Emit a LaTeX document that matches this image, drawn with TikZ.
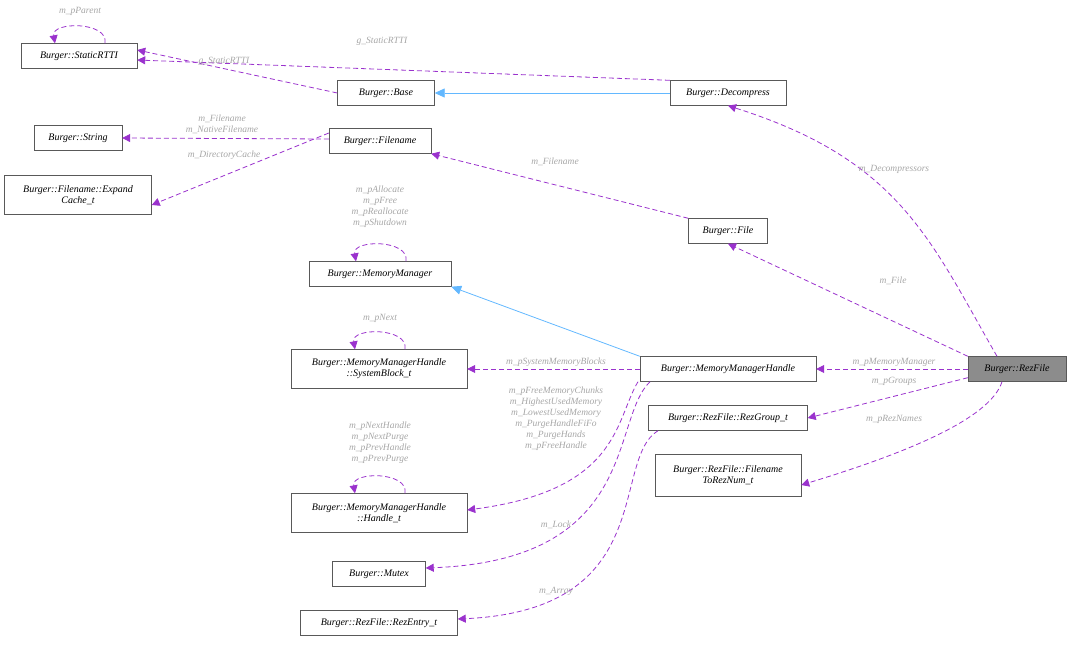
\documentclass[tikz,border=0pt]{standalone}
\usepackage{fontspec}
\setmainfont{Liberation Serif}
\usetikzlibrary{arrows.meta}
\definecolor{edgepurple}{HTML}{9A32CD}
\definecolor{inhblue}{HTML}{63B8FF}
\tikzset{
    cls/.style={draw=black!65, fill=white, inner sep=2pt, minimum height=25pt, align=center, font=\fontsize{10}{11}\selectfont\itshape},
    dep/.style={draw=edgepurple, dashed, thick, dash pattern=on 5pt off 3pt, -{Triangle[length=8pt,width=8pt]}},
    inh/.style={draw=inhblue, thick, -{Triangle[length=10pt,width=9pt]}},
    lbl/.style={text=black!35, font=\fontsize{9.5}{11}\selectfont\itshape, align=center, inner sep=1pt}
}
\begin{document}
\begin{tikzpicture}[x=1pt, y=-1pt]
    \useasboundingbox (0,0) rectangle (1071,645);

    % Classes
    \node[cls, minimum width=116pt] (rtti) at (79,56) {Burger::StaticRTTI};
    \node[cls, minimum width=97pt] (base) at (386,93) {Burger::Base};
    \node[cls, minimum width=116pt] (decomp) at (728,93) {Burger::Decompress};
    \node[cls, minimum width=88pt] (string) at (78,138) {Burger::String};
    \node[cls, minimum width=102pt] (fname) at (380,141) {Burger::Filename};
    \node[cls, minimum width=147pt, minimum height=39pt] (expand) at (78,195) {Burger::Filename::Expand\\Cache\_t};
    \node[cls, minimum width=79pt] (file) at (728,231) {Burger::File};
    \node[cls, minimum width=142pt] (mm) at (380,274) {Burger::MemoryManager};
    \node[cls, minimum width=176pt, minimum height=39pt] (sysblock) at (379,369) {Burger::MemoryManagerHandle\\::SystemBlock\_t};
    \node[cls, minimum width=176pt] (mmh) at (728,369) {Burger::MemoryManagerHandle};
    \node[cls, minimum width=98pt, fill=black!45] (rez) at (1017,369) {Burger::RezFile};
    \node[cls, minimum width=159pt] (group) at (728,418) {Burger::RezFile::RezGroup\_t};
    \node[cls, minimum width=146pt, minimum height=42pt] (tonum) at (728,475) {Burger::RezFile::Filename\\ToRezNum\_t};
    \node[cls, minimum width=176pt, minimum height=39pt] (handle) at (379,513) {Burger::MemoryManagerHandle\\::Handle\_t};
    \node[cls, minimum width=93pt] (mutex) at (379,574) {Burger::Mutex};
    \node[cls, minimum width=157pt] (entry) at (379,623) {Burger::RezFile::RezEntry\_t};

    % Inheritance
    \draw[inh] (decomp) -- (base);
    \draw[inh] (mmh.north west) -- (mm.south east);

    % Self references
    \draw[dep] ([xshift=26pt]rtti.north) .. controls +(4,-22) and +(-4,-22) .. ([xshift=-24pt]rtti.north);
    \node[lbl] (l1) at (80,11) {m\_pParent};
    \draw[dep] ([xshift=26pt]mm.north) .. controls +(4,-22) and +(-4,-22) .. ([xshift=-24pt]mm.north);
    \node[lbl] (l2) at (380,207) {m\_pAllocate\\m\_pFree\\m\_pReallocate\\m\_pShutdown};
    \draw[dep] ([xshift=26pt]sysblock.north) .. controls +(4,-22) and +(-4,-22) .. ([xshift=-24pt]sysblock.north);
    \node[lbl] (l3) at (380,318) {m\_pNext};
    \draw[dep] ([xshift=26pt]handle.north) .. controls +(4,-22) and +(-4,-22) .. ([xshift=-24pt]handle.north);
    \node[lbl] (l4) at (380,443) {m\_pNextHandle\\m\_pNextPurge\\m\_pPrevHandle\\m\_pPrevPurge};

    % Members
    \draw[dep] (decomp.north west) -- ([yshift=-4pt]rtti.east);
    \node[lbl] (l5) at (382,41) {g\_StaticRTTI};
    \draw[dep] (base.west) -- ([yshift=6pt]rtti.east);
    \node[lbl] (l6) at (224,61) {g\_StaticRTTI};
    \draw[dep] ([yshift=2pt]fname.west) -- (string.east);
    \node[lbl] (l7) at (222,124) {m\_Filename\\m\_NativeFilename};
    \draw[dep] ([yshift=8pt]fname.west) -- ([yshift=-10pt]expand.east);
    \node[lbl] (l8) at (224,155) {m\_DirectoryCache};
    \draw[dep] (file.north west) -- (fname.south east);
    \node[lbl] (l9) at (555,162) {m\_Filename};
    \draw[dep] ([xshift=-20pt]rez.north) .. controls (930,240) and (900,160) .. (decomp.south);
    \node[lbl] (l10) at (894,169) {m\_Decompressors};
    \draw[dep] (rez.north west) -- (file.south);
    \node[lbl] (l11) at (893,281) {m\_File};
    \draw[dep] (mmh.west) -- (sysblock.east);
    \node[lbl] (l12) at (556,362) {m\_pSystemMemoryBlocks};
    \draw[dep] (rez.west) -- (mmh.east);
    \node[lbl] (l13) at (894,362) {m\_pMemoryManager};
    \draw[dep] ([yshift=4pt]rez.south west) -- (group.east);
    \node[lbl] (l14) at (894,381) {m\_pGroups};
    \draw[dep] ([xshift=-15pt]rez.south) .. controls (990,420) and (900,455) .. ([yshift=-10pt]tonum.east);
    \node[lbl] (l15) at (894,419) {m\_pRezNames};
    \draw[dep] ([xshift=-90pt]mmh.south) .. controls (615,420) and (620,490) .. ([yshift=3pt]handle.east);
    \node[lbl] (l16) at (556,419) {m\_pFreeMemoryChunks\\m\_HighestUsedMemory\\m\_LowestUsedMemory\\m\_PurgeHandleFiFo\\m\_PurgeHands\\m\_pFreeHandle};
    \draw[dep] ([xshift=-78pt]mmh.south) .. controls (610,420) and (640,560) .. ([yshift=6pt]mutex.east);
    \node[lbl] (l17) at (556,525) {m\_Lock};
    \draw[dep] ([xshift=-70pt]group.south) .. controls (610,460) and (660,610) .. ([yshift=4pt]entry.east);
    \node[lbl] (l18) at (556,591) {m\_Array};
\end{tikzpicture}
\end{document}
